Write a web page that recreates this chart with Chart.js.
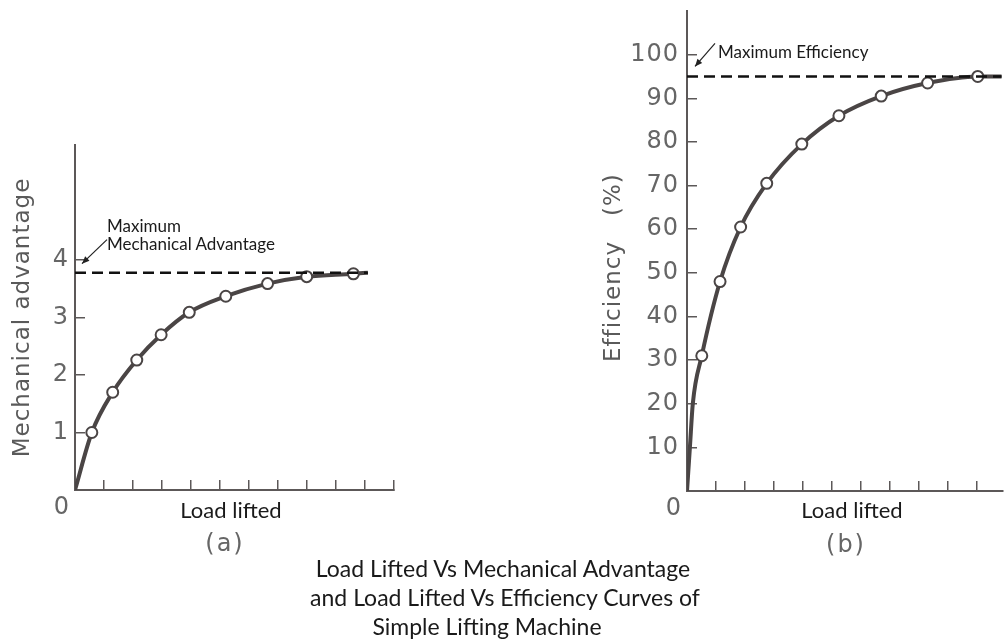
<!DOCTYPE html>
<html>
<head>
<meta charset="utf-8">
<script src="https://cdn.jsdelivr.net/npm/chart.js@4/dist/chart.umd.min.js"></script>
<style>
  body { margin: 0; background: #fff; width: 1004px; height: 639px; overflow: hidden; position: relative; font-family: Lato, "Liberation Sans", sans-serif; }
  .wrap { position: absolute; left: 0; top: 0; width: 1004px; height: 639px; }
  .lbl { position: absolute; white-space: nowrap; color: #1a1a1a; line-height: 1; transform: translate(-50%, -50%); }
  .note { position: absolute; white-space: nowrap; color: #1a1a1a; line-height: 1; transform: translateY(-50%); font-size: 17px; }
  .tag { position: absolute; white-space: nowrap; color: #666; line-height: 1; transform: translate(-50%, -50%); font-family: "DejaVu Sans", sans-serif; font-size: 24px; letter-spacing: 2px; }
</style>
</head>
<body>
<div class="wrap"><canvas id="chartA"></canvas></div>
<div class="wrap"><canvas id="chartB"></canvas></div>

<div class="note" style="left:107px;top:225px">Maximum</div>
<div class="note" style="left:107px;top:243px">Mechanical Advantage</div>
<div class="note" style="left:718px;top:51px">Maximum Efficiency</div>

<div class="lbl" style="left:231px;top:510px;font-size:22px">Load lifted</div>
<div class="tag" style="left:225px;top:543px">(a)</div>
<div class="lbl" style="left:852px;top:510px;font-size:22px">Load lifted</div>
<div class="tag" style="left:846px;top:544px">(b)</div>

<div class="lbl" style="left:503px;top:568px;font-size:23px">Load Lifted Vs Mechanical Advantage</div>
<div class="lbl" style="left:505px;top:597px;font-size:23px">and Load Lifted Vs Efficiency Curves of</div>
<div class="lbl" style="left:487px;top:626px;font-size:23px">Simple Lifting Machine</div>

<script>
// (a) load lifted x mechanical advantage
var loadA = [0.58, 1.3, 2.13, 2.97, 3.94, 5.2, 6.64, 7.99, 9.6]
var maA = [1.0, 1.7, 2.26, 2.7, 3.09, 3.37, 3.59, 3.71, 3.76]
var maMax = 3.78
var curveEndA = 10.1
var yTicksA = [0, 1, 2, 3, 4]
var xTicksA = [0, 1, 2, 3, 4, 5, 6, 7, 8, 9, 10, 11]

// (b) load lifted x efficiency (%)
var loadB = [0.51, 1.14, 1.85, 2.75, 3.96, 5.24, 6.7, 8.3, 10.03]
var effB = [31, 48, 60.5, 70.5, 79.5, 86, 90.5, 93.5, 95]
var leadLoadB = [0.1, 0.2]   // trecho quase vertical perto da origem
var leadEffB = [10, 20]
var effMax = 95
var curveEndB = 10.85
var yTicksB = [0, 10, 20, 30, 40, 50, 60, 70, 80, 90, 100]
var xTicksB = [0, 1, 2, 3, 4, 5, 6, 7, 8, 9, 10]

var gray = '#5c5858'
var curveColor = '#4a4545'

function montaCurva(lx, ly, xs, ys, endX, endY) {
    var pts = [{ x: 0, y: 0 }]
    var rad = [0]
    for (var i = 0; i < lx.length; i++) { pts.push({ x: lx[i], y: ly[i] }); rad.push(0) }
    for (var j = 0; j < xs.length; j++) { pts.push({ x: xs[j], y: ys[j] }); rad.push(5.5) }
    pts.push({ x: endX, y: endY }); rad.push(0)
    return { pts: pts, rad: rad }
}

// desenha o "0" no canto e a seta da anotacao
var cantoSeta = {
    id: 'cantoSeta',
    beforeDraw(chart) {
        chart.ctx.letterSpacing = '1px'
    },
    afterDraw(chart, args, opts) {
        var ctx = chart.ctx
        var x0 = chart.scales.x.getPixelForValue(0)
        var y0 = chart.scales.y.getPixelForValue(0)
        ctx.save()
        ctx.fillStyle = '#666'
        ctx.font = opts.font
        ctx.textAlign = 'center'
        ctx.textBaseline = 'middle'
        ctx.fillText('0', x0 - 13, y0 + 18)

        var tx = x0 + opts.tip[0]
        var ty = chart.scales.y.getPixelForValue(opts.maxVal) + opts.tip[1]
        var sx = tx + opts.tail[0]
        var sy = ty + opts.tail[1]
        ctx.strokeStyle = '#222'
        ctx.fillStyle = '#222'
        ctx.lineWidth = 1.2
        ctx.beginPath()
        ctx.moveTo(sx, sy)
        ctx.lineTo(tx, ty)
        ctx.stroke()
        var ang = Math.atan2(ty - sy, tx - sx)
        ctx.beginPath()
        ctx.moveTo(tx, ty)
        ctx.lineTo(tx - 8 * Math.cos(ang - 0.4), ty - 8 * Math.sin(ang - 0.4))
        ctx.lineTo(tx - 8 * Math.cos(ang + 0.4), ty - 8 * Math.sin(ang + 0.4))
        ctx.closePath()
        ctx.fill()
        ctx.restore()
    }
}

function eixo(ticksList, extra) {
    var base = {
        type: 'linear',
        border: { display: true, color: gray, width: 2 },
        grid: { display: true, drawOnChartArea: false, drawTicks: true, tickLength: -10, color: gray, lineWidth: 1.5 },
        afterBuildTicks: function (scale) {
            scale.ticks = ticksList.map(function (v) { return { value: v } })
        }
    }
    return Object.assign(base, extra)
}

function grafico(id, curva, maxLine, endX, xTicks, yTicks, cfg) {
    var ctx = document.getElementById(id).getContext('2d')
    return new Chart(ctx, {
        type: 'line',
        data: {
            datasets: [{
                // linha tracejada do maximo
                data: [{ x: 0, y: maxLine }, { x: endX, y: maxLine }],
                borderColor: '#111',
                borderWidth: 2.5,
                borderDash: [11, 6],
                pointRadius: 0,
                fill: false
            }, {
                data: curva.pts,
                borderColor: curveColor,
                borderWidth: 4,
                cubicInterpolationMode: 'monotone',
                pointRadius: curva.rad,
                pointBackgroundColor: '#fff',
                pointBorderColor: curveColor,
                pointBorderWidth: 2,
                fill: false
            }]
        },
        options: {
            responsive: true,
            maintainAspectRatio: false,
            animation: false,
            events: [],
            layout: { padding: cfg.padding },
            plugins: {
                legend: { display: false },
                tooltip: { enabled: false },
                cantoSeta: { font: cfg.tickFont, maxVal: maxLine, tip: cfg.tip, tail: cfg.tail }
            },
            scales: {
                x: eixo(xTicks, {
                    min: 0, max: cfg.xMax,
                    ticks: { display: false },
                    afterFit: function (s) { s.height = 0; s.paddingLeft = 0; s.paddingRight = 0 }
                }),
                y: eixo(yTicks, {
                    min: 0, max: cfg.yMax,
                    ticks: {
                        color: '#666',
                        padding: cfg.tickPad,
                        font: { family: 'DejaVu Sans', size: cfg.tickSize },
                        callback: function (v) { return v == 0 ? '' : v }
                    },
                    title: {
                        display: true,
                        text: cfg.title,
                        color: '#5a5a5a',
                        font: { family: 'DejaVu Sans', size: 23 },
                        padding: { top: cfg.titlePad, bottom: 0 }
                    },
                    afterFit: function (s) { s.width = cfg.yWidth; s.paddingTop = 0; s.paddingBottom = 0 }
                })
            }
        },
        plugins: [cantoSeta]
    })
}

var curvaA = montaCurva([], [], loadA, maA, curveEndA, maMax)
grafico('chartA', curvaA, maMax, curveEndA, xTicksA, yTicksA, {
    padding: { left: 0, top: 145, right: 610, bottom: 149 },
    xMax: 11, yMax: 6, yWidth: 75, tickPad: 16, titlePad: 9, tickSize: 24,
    title: 'Mechanical advantage',
    tickFont: '24px "DejaVu Sans"',
    tip: [7, -9], tail: [25, -24]
})

var curvaB = montaCurva(leadLoadB, leadEffB, loadB, effB, curveEndB, effMax)
grafico('chartB', curvaB, effMax, curveEndB, xTicksB, yTicksB, {
    padding: { left: 590, top: 11, right: 1, bottom: 148 },
    xMax: 10.9, yMax: 110, yWidth: 97, tickPad: 18, titlePad: 10, tickSize: 24,
    title: 'Efficiency   (%)    ',
    tickFont: '24px "DejaVu Sans"',
    tip: [8, -10], tail: [20, -23]
})
</script>
</body>
</html>
